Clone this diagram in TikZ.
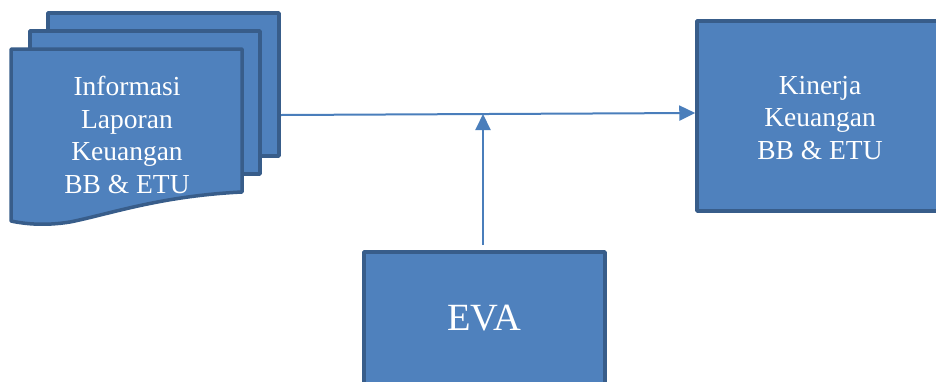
\documentclass[tikz,border=0pt]{standalone}
\usepackage{fontspec}
\setmainfont{Liberation Serif}
\usetikzlibrary{arrows.meta}
\definecolor{boxfill}{HTML}{4F81BD}
\definecolor{boxline}{HTML}{385D8A}
\definecolor{arrowc}{HTML}{4A7EBB}
\tikzset{
  sheet/.style={fill=boxfill, draw=boxline, line width=3.5pt, line join=round},
  box/.style={sheet, rectangle, inner sep=0pt},
  lbl/.style={text=white, align=center, font=\fontsize{27.5}{32.5}\selectfont},
  conn/.style={draw=arrowc, line width=2pt, -{Triangle[length=16pt,width=15pt]}}
}
\begin{document}
\begin{tikzpicture}[x=1pt,y=-1pt]
\useasboundingbox (0,0) rectangle (936,381);
% multidocument
\draw[sheet] (48,13) rectangle (279,156);
\draw[sheet] (30,31) rectangle (260,174);
\draw[sheet] (11,49) -- (242,49) -- (242,192)
  .. controls (160,196) and (110,214) .. (70,222)
  .. controls (45,226) and (25,224) .. (11,221) -- cycle;
\node[lbl] (doc) at (127,135) {Informasi\\Laporan\\Keuangan\\BB \& ETU};
% Kinerja box
\node[box, minimum width=246pt, minimum height=190pt] (kin) at (820,116) {};
\node[lbl] (kintxt) at (820,118) {Kinerja\\Keuangan\\BB \& ETU};
% EVA box
\node[box, minimum width=241pt, minimum height=150pt] (eva) at (484.5,327) {};
\node[text=white, font=\fontsize{38.5}{40}\selectfont] (evatxt) at (484.5,318) {EVA};
% connectors
\coordinate (docR) at (281,115);
\coordinate (kinin) at (kin.west |- 0,113);
\coordinate (join) at (483,114);
\coordinate (evatop) at (483,245);
\draw[conn] (docR) -- (kinin);
\draw[conn] (evatop) -- (join);
\end{tikzpicture}
\end{document}
